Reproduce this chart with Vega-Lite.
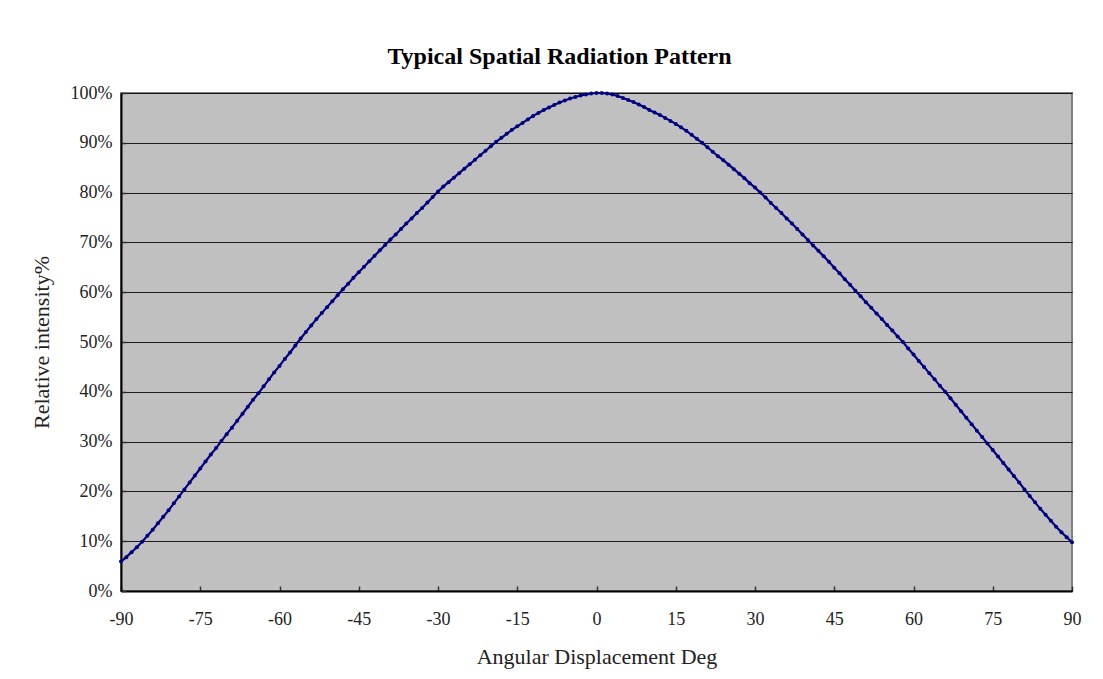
{
  "$schema": "https://vega.github.io/schema/vega-lite/v6.json",
  "autosize": "none",
  "width": 951,
  "height": 498,
  "padding": {"left": 121, "top": 93, "right": 31, "bottom": 88},
  "background": "white",
  "title": {"text": "Typical Spatial Radiation Pattern", "font": "Liberation Serif", "fontSize": 24, "fontWeight": "bold", "offset": 15, "dx": -37, "color": "#000000"},
  "config": {
    "view": {"fill": "#C0C0C0", "stroke": "#808080", "strokeWidth": 2},
    "axis": {
      "labelFont": "Liberation Serif", "labelFontSize": 18, "labelColor": "#222222",
      "titleFont": "Liberation Serif", "titleFontSize": 22, "titleFontWeight": "normal", "titleColor": "#222222",
      "domainColor": "#000000", "domainWidth": 2, "tickColor": "#333333", "tickWidth": 1.5
    }
  },
  "data": {"values": [
    {"a": -90, "v": 5.9}, {"a": -89, "v": 6.8}, {"a": -88, "v": 7.8}, {"a": -87, "v": 8.8}, {"a": -86, "v": 9.9},
    {"a": -85, "v": 11.1}, {"a": -84, "v": 12.3}, {"a": -83, "v": 13.6}, {"a": -82, "v": 14.9}, {"a": -81, "v": 16.2},
    {"a": -80, "v": 17.6}, {"a": -79, "v": 19.0}, {"a": -78, "v": 20.4}, {"a": -77, "v": 21.8}, {"a": -76, "v": 23.2},
    {"a": -75, "v": 24.6}, {"a": -74, "v": 26.0}, {"a": -73, "v": 27.4}, {"a": -72, "v": 28.7}, {"a": -71, "v": 30.1},
    {"a": -70, "v": 31.5}, {"a": -69, "v": 32.8}, {"a": -68, "v": 34.2}, {"a": -67, "v": 35.6}, {"a": -66, "v": 37.0},
    {"a": -65, "v": 38.4}, {"a": -64, "v": 39.7}, {"a": -63, "v": 41.1}, {"a": -62, "v": 42.5}, {"a": -61, "v": 43.9},
    {"a": -60, "v": 45.2}, {"a": -59, "v": 46.6}, {"a": -58, "v": 47.9}, {"a": -57, "v": 49.3}, {"a": -56, "v": 50.7},
    {"a": -55, "v": 52.0}, {"a": -54, "v": 53.3}, {"a": -53, "v": 54.6}, {"a": -52, "v": 55.8}, {"a": -51, "v": 57.0},
    {"a": -50, "v": 58.2}, {"a": -49, "v": 59.4}, {"a": -48, "v": 60.6}, {"a": -47, "v": 61.7}, {"a": -46, "v": 62.9},
    {"a": -45, "v": 64.0}, {"a": -44, "v": 65.1}, {"a": -43, "v": 66.2}, {"a": -42, "v": 67.3}, {"a": -41, "v": 68.4},
    {"a": -40, "v": 69.5}, {"a": -39, "v": 70.6}, {"a": -38, "v": 71.6}, {"a": -37, "v": 72.7}, {"a": -36, "v": 73.8},
    {"a": -35, "v": 74.8}, {"a": -34, "v": 75.9}, {"a": -33, "v": 76.9}, {"a": -32, "v": 78.0}, {"a": -31, "v": 79.1},
    {"a": -30, "v": 80.2}, {"a": -29, "v": 81.2}, {"a": -28, "v": 82.1}, {"a": -27, "v": 83.0}, {"a": -26, "v": 83.9},
    {"a": -25, "v": 84.8}, {"a": -24, "v": 85.7}, {"a": -23, "v": 86.6}, {"a": -22, "v": 87.5}, {"a": -21, "v": 88.4},
    {"a": -20, "v": 89.3}, {"a": -19, "v": 90.2}, {"a": -18, "v": 91.0}, {"a": -17, "v": 91.8}, {"a": -16, "v": 92.6},
    {"a": -15, "v": 93.3}, {"a": -14, "v": 94.0}, {"a": -13, "v": 94.7}, {"a": -12, "v": 95.4}, {"a": -11, "v": 96.0},
    {"a": -10, "v": 96.6}, {"a": -9, "v": 97.1}, {"a": -8, "v": 97.6}, {"a": -7, "v": 98.1}, {"a": -6, "v": 98.5},
    {"a": -5, "v": 98.9}, {"a": -4, "v": 99.2}, {"a": -3, "v": 99.5}, {"a": -2, "v": 99.7}, {"a": -1, "v": 99.9},
    {"a": 0, "v": 100.0}, {"a": 1, "v": 100.0}, {"a": 2, "v": 99.9}, {"a": 3, "v": 99.7}, {"a": 4, "v": 99.4},
    {"a": 5, "v": 99.0}, {"a": 6, "v": 98.6}, {"a": 7, "v": 98.2}, {"a": 8, "v": 97.7}, {"a": 9, "v": 97.2},
    {"a": 10, "v": 96.6}, {"a": 11, "v": 96.1}, {"a": 12, "v": 95.6}, {"a": 13, "v": 95.0}, {"a": 14, "v": 94.4},
    {"a": 15, "v": 93.8}, {"a": 16, "v": 93.1}, {"a": 17, "v": 92.4}, {"a": 18, "v": 91.6}, {"a": 19, "v": 90.8},
    {"a": 20, "v": 90.0}, {"a": 21, "v": 89.1}, {"a": 22, "v": 88.2}, {"a": 23, "v": 87.3}, {"a": 24, "v": 86.5},
    {"a": 25, "v": 85.6}, {"a": 26, "v": 84.7}, {"a": 27, "v": 83.8}, {"a": 28, "v": 82.9}, {"a": 29, "v": 81.9},
    {"a": 30, "v": 81.0}, {"a": 31, "v": 80.0}, {"a": 32, "v": 79.0}, {"a": 33, "v": 77.9}, {"a": 34, "v": 76.9},
    {"a": 35, "v": 75.9}, {"a": 36, "v": 74.8}, {"a": 37, "v": 73.8}, {"a": 38, "v": 72.7}, {"a": 39, "v": 71.6},
    {"a": 40, "v": 70.5}, {"a": 41, "v": 69.4}, {"a": 42, "v": 68.3}, {"a": 43, "v": 67.2}, {"a": 44, "v": 66.1},
    {"a": 45, "v": 64.9}, {"a": 46, "v": 63.8}, {"a": 47, "v": 62.6}, {"a": 48, "v": 61.5}, {"a": 49, "v": 60.3},
    {"a": 50, "v": 59.2}, {"a": 51, "v": 58.0}, {"a": 52, "v": 56.9}, {"a": 53, "v": 55.7}, {"a": 54, "v": 54.6},
    {"a": 55, "v": 53.4}, {"a": 56, "v": 52.3}, {"a": 57, "v": 51.1}, {"a": 58, "v": 50.0}, {"a": 59, "v": 48.7},
    {"a": 60, "v": 47.5}, {"a": 61, "v": 46.2}, {"a": 62, "v": 45.0}, {"a": 63, "v": 43.7}, {"a": 64, "v": 42.5},
    {"a": 65, "v": 41.2}, {"a": 66, "v": 40.0}, {"a": 67, "v": 38.7}, {"a": 68, "v": 37.4}, {"a": 69, "v": 36.1},
    {"a": 70, "v": 34.8}, {"a": 71, "v": 33.5}, {"a": 72, "v": 32.2}, {"a": 73, "v": 30.9}, {"a": 74, "v": 29.6},
    {"a": 75, "v": 28.3}, {"a": 76, "v": 27.0}, {"a": 77, "v": 25.7}, {"a": 78, "v": 24.4}, {"a": 79, "v": 23.1},
    {"a": 80, "v": 21.8}, {"a": 81, "v": 20.4}, {"a": 82, "v": 19.1}, {"a": 83, "v": 17.8}, {"a": 84, "v": 16.5},
    {"a": 85, "v": 15.3}, {"a": 86, "v": 14.1}, {"a": 87, "v": 12.9}, {"a": 88, "v": 11.8}, {"a": 89, "v": 10.8},
    {"a": 90, "v": 9.8}
  ]},
  "mark": {"type": "line", "color": "#000080", "strokeWidth": 2.2, "point": {"filled": true, "size": 16, "color": "#000080"}},
  "encoding": {
    "x": {
      "field": "a", "type": "quantitative",
      "scale": {"domain": [-90, 90], "nice": false, "zero": false},
      "axis": {"values": [-90, -75, -60, -45, -30, -15, 0, 15, 30, 45, 60, 75, 90], "labelExpr": "'' + datum.value", "title": "Angular Displacement Deg", "grid": false, "tickSize": -5, "labelPadding": 24, "titlePadding": 18, "labelFlush": false}
    },
    "y": {
      "field": "v", "type": "quantitative",
      "scale": {"domain": [0, 100], "nice": false},
      "axis": {"values": [0, 10, 20, 30, 40, 50, 60, 70, 80, 90, 100], "labelExpr": "datum.value + '%'", "title": "Relative intensity%", "grid": true, "gridColor": "#000000", "gridWidth": 1, "gridOpacity": 0.85, "tickSize": -5, "labelPadding": 14, "titlePadding": 17}
    }
  }
}
